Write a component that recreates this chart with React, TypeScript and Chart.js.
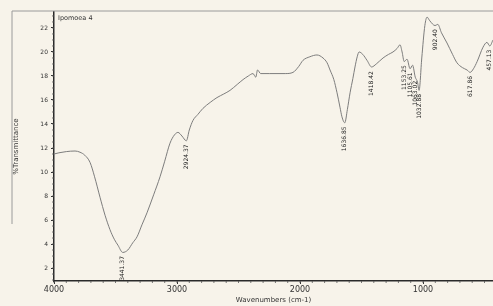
import React, { useEffect, useRef } from "react";
import { Chart, registerables } from "chart.js";

Chart.register(...registerables);

const wavenumbers = [
  4000, 3960, 3900, 3829, 3789, 3750, 3707, 3670, 3626, 3585, 3545, 3510, 3480, 3441, 3400, 3360, 3325, 3285,
  3244, 3190, 3138, 3100, 3057, 3020, 2992, 2960, 2924, 2900, 2870, 2830, 2789, 2730, 2675, 2620, 2569, 2510,
  2463, 2420, 2382, 2360, 2345, 2320, 2250, 2187, 2120, 2057, 2010, 1976, 1920, 1862, 1813, 1780, 1756, 1725,
  1699, 1675, 1659, 1636, 1615, 1593, 1570, 1553, 1535, 1520, 1490, 1455, 1418, 1380, 1325, 1280, 1244, 1210,
  1187, 1170, 1153, 1130, 1105, 1085, 1063, 1045, 1032, 1010, 985, 967, 945, 902, 880, 850, 805, 760, 724, 680,
  642, 617, 590, 560, 512, 480, 457, 431,
];
const transmittance = [
  11.5, 11.6, 11.7, 11.75, 11.65, 11.4, 10.8, 9.6, 7.9, 6.4, 5.2, 4.4, 3.9, 3.3, 3.5, 4.1, 4.6, 5.6,
  6.6, 8.1, 9.6, 10.9, 12.4, 13.1, 13.3, 13.0, 12.6, 13.5, 14.3, 14.8, 15.3, 15.8, 16.2, 16.5, 16.8, 17.3,
  17.7, 18.0, 18.2, 17.9, 18.5, 18.2, 18.2, 18.2, 18.2, 18.3, 18.8, 19.3, 19.6, 19.75, 19.5, 19.1, 18.5, 17.7,
  16.6, 15.4, 14.6, 14.1, 15.2, 16.6, 17.8, 18.75, 19.6, 20.0, 19.8, 19.3, 18.75, 19.0, 19.5, 19.8, 20.0, 20.3,
  20.6, 20.0, 19.2, 19.4, 18.6, 18.9, 17.9, 17.5, 16.8, 19.5, 22.2, 22.9, 22.6, 22.2, 22.3, 21.6, 20.75, 19.8, 19.1, 18.7,
  18.5, 18.3, 18.6, 19.2, 20.4, 20.8, 20.5, 21.0,
];

const xTickValues = [4000, 3000, 2000, 1000];
const yTickValues = [2, 4, 6, 8, 10, 12, 14, 16, 18, 20, 22];

const peakWavenumbers = [3441, 2924, 1636, 1418, 1153, 1105, 1063, 1032, 902, 617, 457];
const peakLabels = ["3441.37", "2924.37", "1636.85", "1418.42", "1153.25", "1105.61", "1063.02", "1032.88", "902.40", "617.86", "457.13"];
const peakAnchors = [3.0, 12.3, 13.8, 18.4, 18.9, 18.3, 17.6, 16.5, 21.9, 18.0, 20.2];

const sampleName = "Ipomoea 4";
const yTitle = "%Transmittance";
const xTitle = "Wavenumbers (cm-1)";

const BG = "#f7f3ea";

const decorPlugin = {
  id: "decor",
  beforeDraw(chart: any) {
    const { ctx, width, height } = chart;
    ctx.save();
    ctx.fillStyle = BG;
    ctx.fillRect(0, 0, width, height);
    ctx.restore();
  },
  afterDraw(chart: any) {
    const { ctx, chartArea, scales } = chart;
    const xs = scales.x;
    const ys = scales.y;
    ctx.save();
    ctx.strokeStyle = "#555";
    ctx.lineWidth = 0.8;
    for (let v = 1; v <= 23.3; v += 0.5) {
      const y = ys.getPixelForValue(v);
      if (y < chartArea.top || y > chartArea.bottom) continue;
      ctx.beginPath();
      ctx.moveTo(chartArea.left - 2, y);
      ctx.lineTo(chartArea.left, y);
      ctx.stroke();
    }
    for (let v = 500; v <= 4000; v += 100) {
      const x = xs.getPixelForValue(v);
      if (x < chartArea.left || x > chartArea.right) continue;
      ctx.beginPath();
      ctx.moveTo(x, chartArea.bottom);
      ctx.lineTo(x, chartArea.bottom + 2);
      ctx.stroke();
    }
    ctx.strokeStyle = "#9a9a9a";
    ctx.lineWidth = 1;
    ctx.beginPath();
    ctx.moveTo(12, chartArea.top - 1);
    ctx.lineTo(chartArea.right, chartArea.top - 1);
    ctx.stroke();
    ctx.beginPath();
    ctx.moveTo(12, chartArea.top - 1);
    ctx.lineTo(12, 224);
    ctx.stroke();
    ctx.fillStyle = "#333";
    ctx.font = "6.5px 'DejaVu Sans'";
    ctx.textAlign = "left";
    ctx.textBaseline = "middle";
    ctx.fillText(sampleName, chartArea.left + 4, chartArea.top + 6);
    ctx.fillStyle = "#222";
    ctx.font = "6px 'DejaVu Sans'";
    ctx.textBaseline = "middle";
    ctx.textAlign = "right";
    peakWavenumbers.forEach((wn, i) => {
      const x = xs.getPixelForValue(wn);
      const y = ys.getPixelForValue(peakAnchors[i]);
      ctx.save();
      ctx.translate(x, y);
      ctx.rotate(-Math.PI / 2);
      ctx.fillText(peakLabels[i], 0, 0);
      ctx.restore();
    });
    ctx.restore();
  },
};

export default function App() {
  const ref = useRef<HTMLCanvasElement | null>(null);
  useEffect(() => {
    document.body.style.margin = "0";
    document.body.style.background = BG;
    if (!ref.current) return;
    const chart = new Chart(ref.current, {
      type: "scatter",
      data: {
        datasets: [
          {
            data: wavenumbers.map((w, i) => ({ x: w, y: transmittance[i] })),
            showLine: true,
            borderColor: "#7d7d7d",
            borderWidth: 1,
            pointRadius: 0,
            cubicInterpolationMode: "monotone",
          } as any,
        ],
      },
      options: {
        animation: false,
        responsive: true,
        maintainAspectRatio: false,
        layout: { padding: { top: 12, left: 0, right: 0, bottom: 0 } },
        plugins: { legend: { display: false }, tooltip: { enabled: false } },
        scales: {
          x: {
            type: "linear",
            reverse: true,
            min: 431,
            max: 4000,
            afterBuildTicks: (axis: any) => {
              axis.ticks = xTickValues.map((v) => ({ value: v }));
            },
            afterFit: (axis: any) => {
              axis.height = 25;
            },
            ticks: {
              autoSkip: false,
              maxRotation: 0,
              padding: 1,
              color: "#333",
              font: { family: "DejaVu Sans", size: 8 },
              callback: (v: any) => String(v),
            },
            grid: { drawOnChartArea: false, drawTicks: true, tickLength: 3, color: "#333" },
            border: { display: true, color: "#2a2a2a", width: 1.5 },
            title: {
              display: true,
              text: xTitle,
              color: "#333",
              font: { family: "DejaVu Sans", size: 7 },
              padding: { top: 0, bottom: 2 },
            },
          },
          y: {
            type: "linear",
            min: 0.92,
            max: 23.33,
            afterBuildTicks: (axis: any) => {
              axis.ticks = yTickValues.map((v) => ({ value: v }));
            },
            afterFit: (axis: any) => {
              axis.width = 54;
            },
            ticks: {
              padding: 3,
              color: "#333",
              font: { family: "DejaVu Sans", size: 6 },
              callback: (v: any) => String(v),
            },
            grid: { drawOnChartArea: false, drawTicks: true, tickLength: 3, color: "#333" },
            border: { display: true, color: "#2a2a2a", width: 1.5 },
            title: {
              display: true,
              text: yTitle,
              color: "#333",
              font: { family: "DejaVu Sans", size: 7 },
              padding: { top: 12, bottom: 0 },
            },
          },
        },
      },
      plugins: [decorPlugin],
    });
    return () => chart.destroy();
  }, []);
  return (
    <div style={{ width: 493, height: 306, position: "relative" }}>
      <canvas ref={ref} />
    </div>
  );
}
